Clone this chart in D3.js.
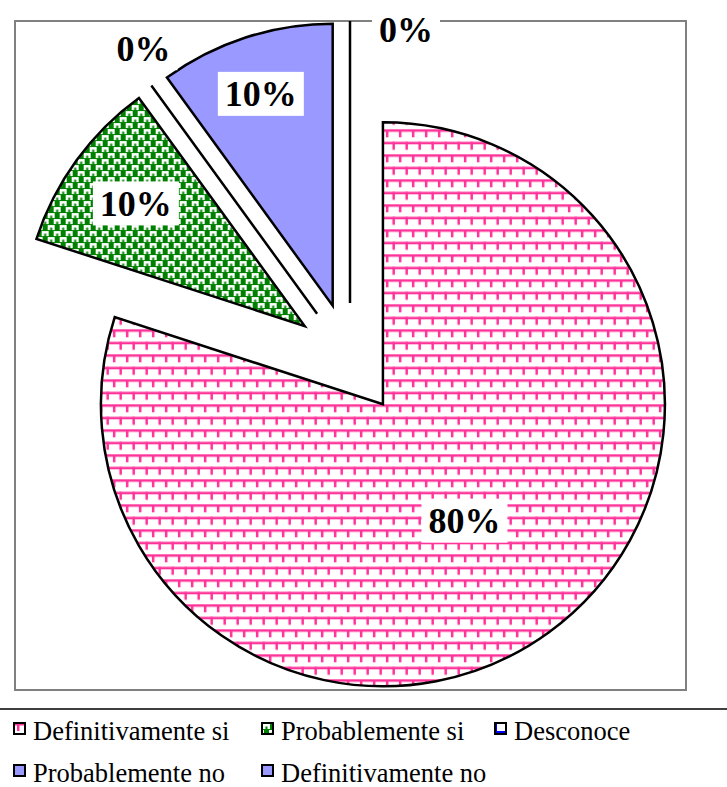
<!DOCTYPE html>
<html>
<head>
<meta charset="utf-8">
<script src="https://cdn.jsdelivr.net/npm/d3@7"></script>
<style>
body {margin:0; background:#fff;}
svg {display:block;}
svg text {font-family: "Liberation Serif", "Times New Roman", serif;}
</style>
</head>
<body>
<svg id="chart"></svg>
<script>

//data//

var categories = ["Definitivamente si","Probablemente si","Desconoce","Probablemente no","Definitivamente no"];
var values = [80,10,0,10,0];
var pctLabels = ["80%","10%","0%","10%","0%"];

//fills for each slice, patterns defined below//
var fills = ["url(#pinkBrick)","url(#greenWeave)","url(#blueDesc)","#9999ff","#9999ff"];

var screen = {width: 727, height: 787}
var frame = {left: 15, top: 21, right: 686, bottom: 690}
var center = {x: 350, y: 359}
var radius = 282
var explode = 56

var svg = d3.select("#chart")
            .attr("width",screen.width)
            .attr("height",screen.height)

//patterns, rough copies of the excel fills//

var defs = svg.append("defs")

var pinkCol = "#ff3399"
var pink = defs.append("pattern")
               .attr("id","pinkBrick")
               .attr("patternUnits","userSpaceOnUse")
               .attr("width",13)
               .attr("height",25)
pink.append("rect").attr("width",13).attr("height",25).attr("fill","#fff")
pink.append("rect").attr("x",0).attr("y",0).attr("width",13).attr("height",2.5).attr("fill",pinkCol)
pink.append("rect").attr("x",3).attr("y",0).attr("width",2.5).attr("height",8).attr("fill",pinkCol)
pink.append("rect").attr("x",0).attr("y",12.5).attr("width",13).attr("height",2.5).attr("fill",pinkCol)
pink.append("rect").attr("x",9.5).attr("y",12.5).attr("width",2.5).attr("height",8).attr("fill",pinkCol)

var green = defs.append("pattern")
                .attr("id","greenWeave")
                .attr("patternUnits","userSpaceOnUse")
                .attr("width",12)
                .attr("height",12)
green.append("rect").attr("width",12).attr("height",12).attr("fill","#008000")
green.append("rect").attr("x",1).attr("y",1).attr("width",7).attr("height",5).attr("fill","#fff")
green.append("rect").attr("x",7).attr("y",7).attr("width",5).attr("height",5).attr("fill","#fff")
green.append("rect").attr("x",0).attr("y",7).attr("width",2).attr("height",5).attr("fill","#fff")
green.append("rect").attr("x",3.5).attr("y",3.5).attr("width",2).attr("height",2.5).attr("fill","#008000")
green.append("rect").attr("x",9.5).attr("y",9.5).attr("width",2).attr("height",2.5).attr("fill","#008000")

var desc = defs.append("pattern")
               .attr("id","blueDesc")
               .attr("patternUnits","userSpaceOnUse")
               .attr("width",10)
               .attr("height",10)
desc.append("rect").attr("width",10).attr("height",10).attr("fill","#fff")
desc.append("rect").attr("x",0).attr("y",0).attr("width",2).attr("height",10).attr("fill","#0000ff")
desc.append("rect").attr("x",0).attr("y",8).attr("width",10).attr("height",2).attr("fill","#0000ff")

//plot area border//

svg.append("rect")
   .attr("x",frame.left)
   .attr("y",frame.top)
   .attr("width",frame.right-frame.left)
   .attr("height",frame.bottom-frame.top)
   .attr("fill","none")
   .attr("stroke","#808080")
   .attr("stroke-width",2)

//pie, clockwise from 12 o'clock, no sorting//

var pie = d3.pie()
            .sort(null)
            .value(function(d){return d;})

var arc = d3.arc()
            .innerRadius(0)
            .outerRadius(radius)

var slices = pie(values)

//every slice pulled out along its middle angle//
var offset = function(s)
             {
             var a = (s.startAngle+s.endAngle)/2;
             return [Math.sin(a)*explode, -Math.cos(a)*explode];
             }

var g = svg.append("g")
           .attr("transform","translate("+center.x+","+center.y+")")

g.selectAll("path")
 .data(slices)
 .enter()
 .append("path")
 .attr("transform",function(s)
                  {
                  var o = offset(s);
                  return "translate("+o[0]+","+o[1]+")";
                  })
 .attr("d",arc)
 .attr("fill",function(s,i){return fills[i];})
 .attr("stroke","#000")
 .attr("stroke-width",2.5)
 .attr("stroke-linejoin","miter")

//where the labels sit: share of radius along the middle angle, plus a nudge//
var labelSpot = [{k:0.51,dx:-3,dy:0},{k:0.74,dx:0,dy:0},{k:1.12,dx:12,dy:-10},{k:0.79,dx:-3,dy:0},{k:0.97,dx:56,dy:0}]

var labels = g.selectAll(".lab")
              .data(slices)
              .enter()
              .append("g")
              .attr("class","lab")
              .attr("transform",function(s,i)
                    {
                    var o = offset(s);
                    var a = (s.startAngle+s.endAngle)/2;
                    var p = labelSpot[i];
                    var x = o[0] + Math.sin(a)*radius*p.k + p.dx;
                    var y = o[1] - Math.cos(a)*radius*p.k + p.dy;
                    return "translate("+x+","+y+")";
                    })

labels.append("rect")
      .attr("fill","#fff")

labels.append("text")
      .attr("text-anchor","middle")
      .attr("dy","0.35em")
      .attr("font-weight","bold")
      .attr("font-size",36)
      .attr("fill","#000")
      .text(function(s,i){return pctLabels[i];})

labels.each(function()
            {
            var b = d3.select(this).select("text").node().getBBox();
            d3.select(this).select("rect")
              .attr("x",b.x-7)
              .attr("y",-22)
              .attr("width",b.width+14)
              .attr("height",44);
            })

//legend at the bottom//

var legendTop = 709
svg.append("rect")
   .attr("x",-2)
   .attr("y",legendTop)
   .attr("width",screen.width+4)
   .attr("height",100)
   .attr("fill","#fff")
   .attr("stroke","#000")
   .attr("stroke-width",1.5)

var cols = [14, 262, 495]
var rows = [723, 765]

var items = svg.selectAll(".item")
               .data(categories)
               .enter()
               .append("g")
               .attr("class","item")
               .attr("transform",function(c,i)
                     {
                     return "translate("+cols[i%3]+","+rows[Math.floor(i/3)]+")";
                     })

items.append("rect")
     .attr("width",11)
     .attr("height",11)
     .attr("fill",function(c,i){return fills[i];})
     .attr("stroke","#000")
     .attr("stroke-width",2)

items.append("text")
     .attr("x",19)
     .attr("y",17)
     .attr("font-size",26.5)
     .attr("fill","#000")
     .text(function(c){return c;})

</script>
</body>
</html>
